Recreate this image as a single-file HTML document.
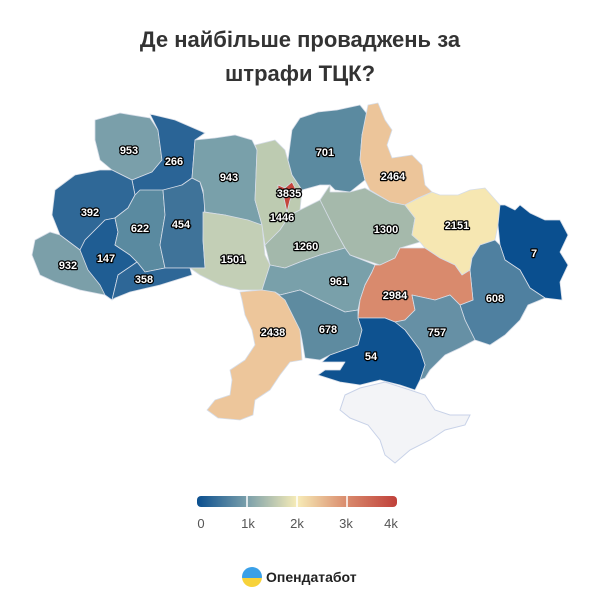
<!DOCTYPE html>
<html><head><meta charset="utf-8"><style>
body{margin:0;background:#fff;width:600px;height:600px;overflow:hidden;font-family:"Liberation Sans",sans-serif}
</style></head><body>
<svg width="600" height="600" viewBox="0 0 600 600" xmlns="http://www.w3.org/2000/svg">
<defs>
<linearGradient id="g" x1="0" x2="1">
<stop offset="0" stop-color="#0b4f8f"/><stop offset="0.25" stop-color="#7a9faa"/>
<stop offset="0.5" stop-color="#f7ecb7"/><stop offset="0.75" stop-color="#d98a6c"/>
<stop offset="1" stop-color="#c0403a"/></linearGradient>
<linearGradient id="lg" x1="0" y1="0" x2="0" y2="1"><stop offset="0" stop-color="#3aa0e8"/><stop offset="0.55" stop-color="#3aa0e8"/><stop offset="0.55" stop-color="#f7d23a"/></linearGradient>
</defs>
<text x="300" y="47" text-anchor="middle" font-size="22" font-weight="bold" fill="#333">Де найбільше проваджень за</text>
<text x="300" y="81" text-anchor="middle" font-size="22" font-weight="bold" fill="#333">штрафи ТЦК?</text>
<g stroke="#d6dde8" stroke-width="0.8" stroke-linejoin="round">
<polygon fill="#7a9faa" points="95,120 120,113 150,118 158,130 162,160 152,172 132,180 112,170 100,160 95,140"/>
<polygon fill="#2a6496" points="150,114 175,120 205,133 195,140 192,178 182,185 160,192 135,195 132,180 152,172 162,160 158,130"/>
<polygon fill="#2f6897" points="55,190 75,175 100,170 112,170 132,180 135,195 128,208 115,218 105,220 85,240 80,250 60,235 52,215"/>
<polygon fill="#7b9fa9" points="35,240 50,232 60,235 80,250 90,270 105,285 105,295 80,290 55,282 40,275 32,255"/>
<polygon fill="#1f5d93" points="80,250 85,240 105,220 115,218 118,232 115,245 130,255 137,262 118,275 112,300 105,295 100,285 88,270"/>
<polygon fill="#5a8aa0" points="115,218 128,208 135,195 140,190 163,190 165,215 160,245 165,268 145,272 137,262 130,255 115,245 118,232"/>
<polygon fill="#3f7399" points="163,190 182,185 192,178 200,182 205,200 203,240 205,268 190,268 165,268 160,245 165,215"/>
<polygon fill="#2e6797" points="118,275 137,262 145,272 165,268 190,268 192,275 160,285 130,292 115,298 112,300"/>
<polygon fill="#79a0aa" points="195,140 215,138 235,135 252,140 257,150 255,200 262,225 248,222 225,215 205,212 203,190 200,182 192,178"/>
<polygon fill="#c3cfb6" points="203,212 225,215 248,220 262,225 265,255 270,265 262,290 240,290 220,285 200,275 190,268 205,268 203,240"/>
<polygon fill="#bdcbb1" points="255,145 275,140 285,150 292,175 302,190 300,210 290,215 280,230 265,245 262,225 255,200 257,150"/>
<polygon fill="#5b8aa0" points="292,130 300,118 318,112 337,110 360,105 368,115 362,135 360,160 365,180 350,192 335,190 330,185 320,185 302,190 292,175 288,160"/>
<polygon fill="#ecc59a" points="368,105 378,103 385,120 392,130 387,145 392,158 412,155 422,165 425,185 432,192 418,198 405,205 390,202 370,190 365,180 360,160 362,135 365,120"/>
<polygon fill="#a5b9ab" points="330,192 350,192 365,188 390,202 405,205 415,218 412,235 420,242 400,248 395,258 380,265 350,255 345,248 335,230 325,210 320,200 330,185"/>
<polygon fill="#a3b8ab" points="265,245 280,230 290,215 300,210 320,200 325,210 335,230 345,248 320,255 300,262 285,268 270,265"/>
<polygon fill="#f6e7b2" points="415,200 432,192 440,195 458,195 470,190 485,188 500,205 498,225 495,240 480,245 472,258 470,270 462,275 455,265 440,258 425,248 420,242 412,235 415,218 405,205"/>
<polygon fill="#0a4f8f" points="505,205 515,210 520,205 530,213 545,220 560,220 568,235 560,252 568,265 560,282 562,300 545,298 530,288 520,270 505,260 500,245 498,225 500,205"/>
<polygon fill="#4f80a0" points="495,240 500,245 505,260 520,270 530,288 545,298 528,305 520,320 505,335 490,345 475,340 465,320 460,305 473,300 470,270 472,258 480,245"/>
<polygon fill="#79a0aa" points="270,265 285,268 300,262 320,255 345,248 350,255 375,265 372,272 365,285 360,300 358,310 345,312 320,300 300,290 280,295 262,290"/>
<polygon fill="#d98a6d" points="375,265 380,265 395,258 400,248 425,248 440,258 455,265 462,275 470,270 473,300 460,305 450,295 435,300 412,295 415,310 405,320 395,322 385,318 358,318 360,300 365,285 372,272"/>
<polygon fill="#edc69b" points="240,292 262,290 275,292 285,300 300,330 302,360 290,362 280,375 270,390 255,400 253,415 240,420 218,418 207,410 215,400 230,395 232,380 230,370 245,360 255,345 252,330 245,315 242,300"/>
<polygon fill="#5e8ba0" points="275,292 280,295 300,290 320,300 345,312 358,310 358,318 362,330 358,345 330,355 320,360 305,358 302,340 300,330 285,300"/>
<polygon fill="#6690a5" points="395,322 405,320 415,310 412,295 435,300 450,295 460,305 465,320 475,340 460,348 445,355 430,370 425,378 420,380 425,365 420,350 405,330"/>
<polygon fill="#0e5290" points="358,318 385,318 395,322 405,330 420,350 425,365 420,380 415,390 400,385 380,380 360,385 340,382 318,375 325,370 340,370 345,362 322,362 330,355 358,345 362,330"/>
<polygon fill="#c5453c" points="278,185 285,188 292,182 296,190 290,200 287,212 284,198 278,195"/>
</g>
<polygon fill="#f3f4f7" stroke="#c8d2e8" stroke-width="1" points="345,395 360,388 385,382 410,390 425,395 435,410 450,415 470,415 465,425 445,430 430,440 410,450 395,463 385,455 380,440 368,425 350,418 340,410"/>
<g font-size="11" font-weight="bold" fill="#fff" stroke="#000" stroke-width="2.5" paint-order="stroke" text-anchor="middle" stroke-linejoin="round">
<text x="129" y="154">953</text><text x="174" y="165">266</text><text x="229" y="181">943</text>
<text x="90" y="216">392</text><text x="140" y="232">622</text><text x="181" y="228">454</text>
<text x="106" y="262">147</text><text x="68" y="269">932</text><text x="144" y="283">358</text>
<text x="233" y="263">1501</text><text x="282" y="221">1446</text><text x="289" y="197">3835</text>
<text x="325" y="156">701</text><text x="393" y="180">2464</text><text x="386" y="233">1300</text>
<text x="306" y="250">1260</text><text x="457" y="229">2151</text><text x="534" y="257">7</text>
<text x="339" y="285">961</text><text x="395" y="299">2984</text><text x="495" y="302">608</text>
<text x="273" y="336">2438</text><text x="328" y="333">678</text><text x="371" y="360">54</text><text x="437" y="336">757</text>
</g>
<rect x="197" y="496" width="200" height="11" rx="4" fill="url(#g)"/>
<g stroke="#fff" stroke-width="1.5"><line x1="247" y1="496" x2="247" y2="507"/><line x1="297" y1="496" x2="297" y2="507"/><line x1="347" y1="496" x2="347" y2="507"/></g>
<g font-size="13" fill="#555" text-anchor="middle">
<text x="201" y="528">0</text><text x="248" y="528">1k</text><text x="297" y="528">2k</text><text x="346" y="528">3k</text><text x="391" y="528">4k</text></g>
<circle cx="252" cy="577" r="10" fill="url(#lg)"/>
<text x="266" y="582" font-size="14" font-weight="bold" fill="#222">Опендатабот</text>
</svg>
</body></html>
